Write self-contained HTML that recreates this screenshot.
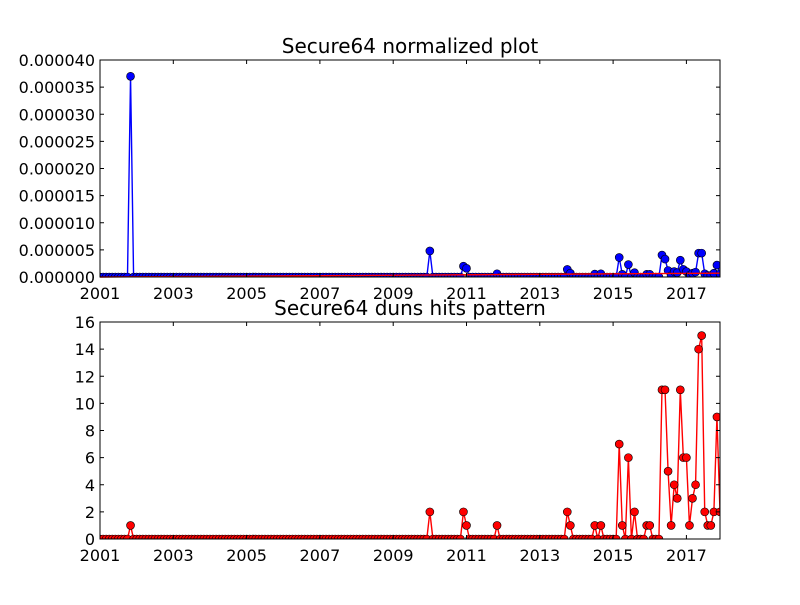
<!DOCTYPE html>
<html><head><meta charset="utf-8"><style>
body{margin:0;background:#fff;}
svg text{font-family:"DejaVu Sans","Liberation Sans",sans-serif;fill:#000;}
</style></head><body>
<svg id="chart" width="800" height="600" xmlns="http://www.w3.org/2000/svg"></svg>
<script>
// month indices since 2001-01 and values
const hitIdx = [10,108,119,120,130,153,154,162,164,170,171,173,175,179,180,184,185,186,187,188,189,190,191,192,193,194,195,196,197,198,199,200,201,202,203];
const hitVals = [1,2,2,1,1,2,1,1,1,7,1,6,2,1,1,11,11,5,1,4,3,11,6,6,1,3,4,14,15,2,1,1,2,9,2];
const normVals = [37,4.8,2.0,1.6,0.6,1.4,0.7,0.55,0.6,3.6,0.5,2.3,0.8,0.5,0.5,4.05,3.3,1.2,0.25,1.0,0.8,3.1,1.4,1.0,0.3,0.7,0.9,4.4,4.4,0.6,0.3,0.3,0.7,2.2,0.6]; // x1e-6
const trendEnds = [0.0, 0.7]; // x1e-6 at first/last month
const yearTicks = ["2001","2003","2005","2007","2009","2011","2013","2015","2017"];
const topTicks = ["0.000000","0.000005","0.000010","0.000015","0.000020","0.000025","0.000030","0.000035","0.000040"];
const botTicks = ["0","2","4","6","8","10","12","14","16"];
const N = 204;

const svg = document.getElementById('chart');
const NS = 'http://www.w3.org/2000/svg';
function mk(tag, attrs, parent){const e=document.createElementNS(NS,tag);for(const k in attrs)e.setAttribute(k,attrs[k]);(parent||svg).appendChild(e);return e;}
const L=100,R=720;
const xS = i => L + i*(R-L)/203;

function panel(top,bot,maxV,ticks,title,name){
  const g = mk('g',{});
  
  
  const yS = v => bot - v/maxV*(bot-top);
  return {g,yS,top,bot,ticks,title,maxV};
}
function frame(p){
  const {g,top,bot,ticks,title,maxV,yS}=p;
  const r = mk('rect',{x:L,y:top,width:R-L,height:bot-top,fill:'none',stroke:'#000','stroke-width':1},g);
  
  
  yearTicks.forEach(t=>{
    const x = xS((+t-2001)*12);
    mk('line',{x1:x,x2:x,y1:bot,y2:bot-4,stroke:'#000'},g);
    mk('line',{x1:x,x2:x,y1:top,y2:top+4,stroke:'#000'},g);
    const tx = mk('text',{x:x,y:bot+22,'font-size':16,'text-anchor':'middle'},g);
    tx.textContent=t;
    
    
  });
  ticks.forEach((t,i)=>{
    const y = yS(i*maxV/(ticks.length-1));
    mk('line',{x1:L,x2:L+4,y1:y,y2:y,stroke:'#000'},g);
    mk('line',{x1:R,x2:R-4,y1:y,y2:y,stroke:'#000'},g);
    const tx = mk('text',{x:L-5,y:y+6,'font-size':16,'text-anchor':'end'},g);
    tx.textContent=t;
    
    
  });
  const tt = mk('text',{x:(L+R)/2,y:top-7,'font-size':20,'text-anchor':'middle'},g);
  tt.textContent=title;
  
  
}
function series(p,vals,color,name){
  const {g,yS,top,bot}=p;
  const cid='clip'+name;
  const cp=mk('clipPath',{id:cid},g);mk('rect',{x:L,y:top,width:R-L,height:bot-top},cp);
  const sg=mk('g',{'clip-path':'url(#'+cid+')'},g);
  
  
  const pts=vals.map((v,i)=>xS(i)+','+yS(v)).join(' ');
  mk('polyline',{points:pts,fill:'none',stroke:color,'stroke-width':1.4},sg);
  vals.forEach((v,i)=>{
    const c=mk('circle',{cx:xS(i),cy:yS(v),r:4,fill:color,stroke:'#000','stroke-width':0.6},sg);
    
    
  });
  return sg;
}
const hits=new Array(N).fill(0), norm=new Array(N).fill(0);
hitIdx.forEach((ix,k)=>{hits[ix]=hitVals[k];norm[ix]=normVals[k];});

const p1=panel(60,277,40,topTicks,'Secure64 normalized plot','normalized-plot');
series(p1,norm,'#0000ff','normalized-series');
const tl=mk('line',{x1:xS(0),x2:xS(203),y1:p1.yS(trendEnds[0]),y2:p1.yS(trendEnds[1]),stroke:'#ff0000','stroke-width':1.4},p1.g);


frame(p1);

const p2=panel(322,539,16,botTicks,'Secure64 duns hits pattern','hits-plot');
series(p2,hits,'#ff0000','hits-series');
frame(p2);
</script>
</body></html>
